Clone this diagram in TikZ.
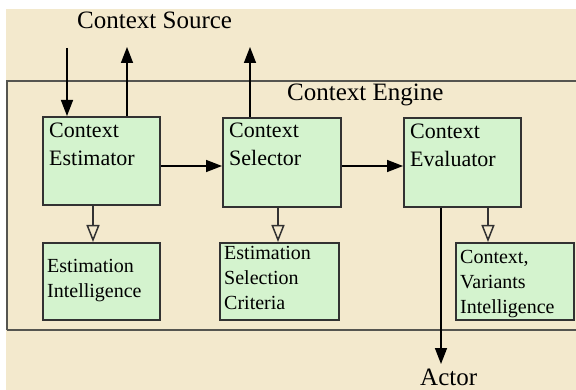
\documentclass[tikz,border=0pt]{standalone}
\usepackage{fontspec}
\setmainfont{Liberation Serif}
\usetikzlibrary{arrows.meta}
\definecolor{bg}{RGB}{243,233,205}
\definecolor{boxg}{RGB}{212,243,206}
\definecolor{edgec}{RGB}{50,50,50}
\definecolor{engc}{RGB}{85,85,80}
\begin{document}
\begin{tikzpicture}[x=1pt,y=-1pt,
  blk/.style={draw=edgec, line width=1.8pt, fill=boxg, inner sep=0pt, anchor=north west},
  toptxt/.style={anchor=base west, inner sep=0pt, align=left, font=\fontsize{22}{28}\selectfont},
  bottxt/.style={anchor=base west, inner sep=0pt, align=left, font=\fontsize{20}{25}\selectfont},
  head/.style={anchor=base west, inner sep=0pt, font=\fontsize{25}{30}\selectfont},
  arr/.style={line width=1.5pt, -{Triangle[length=16pt,width=12pt]}},
  oarr/.style={line width=1.5pt, draw=edgec, -{Triangle[open,length=17pt,width=13pt]}},
  engline/.style={line width=2pt, draw=engc}]
\fill[white] (0,0) rectangle (576,390);
\fill[bg] (6,9) rectangle (576,390);
\useasboundingbox (0,0) rectangle (576,390);
\draw[engline] (6.5,330) -- (6.5,81.5) -- (576,81.5);
\draw[engline] (6.5,330) -- (576,330);
% boxes
\node[blk, minimum width=117pt, minimum height=88pt] (est) at (42,116) {};
\node[blk, minimum width=118pt, minimum height=89pt] (sel) at (222,117) {};
\node[blk, minimum width=117pt, minimum height=89pt] (eva) at (403,117) {};
\node[blk, minimum width=117pt, minimum height=77pt] (ei) at (42,242) {};
\node[blk, minimum width=119pt, minimum height=77pt] (esc) at (219,242) {};
\node[blk, minimum width=118pt, minimum height=77pt] (cvi) at (455,242) {};
% texts (anchor = baseline of last line)
\node[head] (src) at (77,29) {Context Source};
\node[head] (eng) at (287,101) {Context Engine};
\node[head] (actor) at (420,385) {Actor};
\node[toptxt] (estT) at (49,166) {Context\\Estimator};
\node[toptxt] (selT) at (229,166) {Context\\Selector};
\node[toptxt] (evaT) at (410,167) {Context\\Evaluator};
\node[bottxt] (eiT) at (47,298) {Estimation\\Intelligence};
\node[bottxt] (escT) at (224,309) {Estimation\\Selection\\Criteria};
\node[bottxt] (cviT) at (460,313) {Context,\\Variants\\Intelligence};
% connector coordinates
\coordinate (inA) at (67,48);
\coordinate (outA) at (127,47);
\coordinate (outB) at (250,47);
\coordinate (act) at (441,364);
\coordinate (hy) at (0,166);
\coordinate (dA) at (93,0);
\coordinate (dB) at (278,0);
\coordinate (dC) at (488,0);
% connectors
\draw[arr] (inA) -- (inA |- est.north);
\draw[arr] (outA |- est.north) -- (outA);
\draw[arr] (outB |- sel.north) -- (outB);
\draw[arr] (est.east |- hy) -- (sel.west |- hy);
\draw[arr] (sel.east |- hy) -- (eva.west |- hy);
\draw[arr] (act |- eva.south) -- (act);
\draw[oarr] (dA |- est.south) -- (dA |- ei.north);
\draw[oarr] (dB |- sel.south) -- (dB |- esc.north);
\draw[oarr] (dC |- eva.south) -- (dC |- cvi.north);
\end{tikzpicture}
\end{document}
